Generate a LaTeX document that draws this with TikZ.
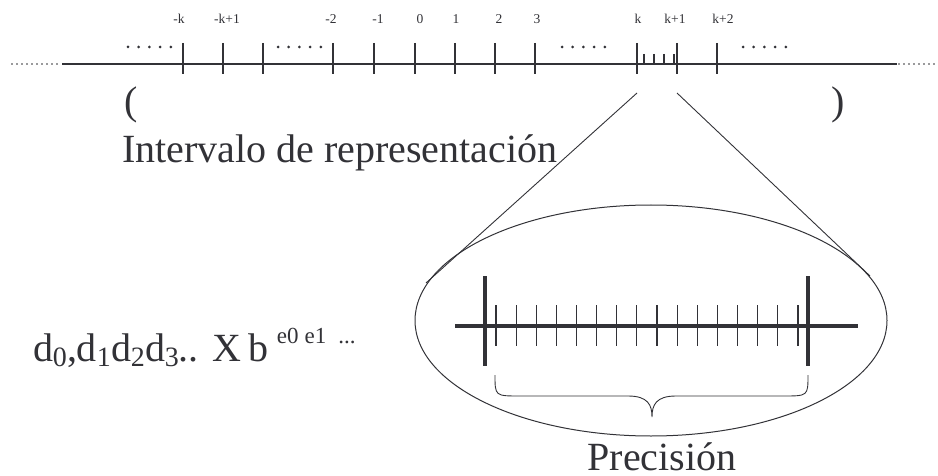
\documentclass[tikz,border=0pt]{standalone}
\usepackage{fontspec}
\setmainfont{Liberation Serif}
\usetikzlibrary{shapes.geometric}
\definecolor{ink}{RGB}{50,50,55}
\newcommand\mysub[1]{\raisebox{-5pt}{\fontsize{28}{30}\selectfont #1}}
\newcommand\mysup[1]{\raisebox{18pt}{\fontsize{23}{25}\selectfont #1}}
\begin{document}
\begin{tikzpicture}[x=1pt,y=-1pt,
  every node/.style={inner sep=0pt, outer sep=0pt, text=ink},
  big/.style={font=\fontsize{40}{48}\selectfont},
  lbl/.style={font=\fontsize{13.5}{15}\selectfont, anchor=base},
  thin/.style={draw=ink, line width=1.1pt},
  fine/.style={draw=ink, line width=0.9pt},
  heavy/.style={draw=ink, line width=4.5pt},
  dotb/.style={fill=ink, draw=none}]
\useasboundingbox (0,0) rectangle (938,476);

% main line
\coordinate (L) at (62,64);
\coordinate (R) at (897,64);
\draw[thin] (L) -- (R);
\foreach \i in {0,...,9} \fill[dotb] (12+5*\i,64) circle (0.9);
\foreach \i in {0,...,7} \fill[dotb] (899+5*\i,64) circle (0.9);

% ticks
\foreach \x in {183,223,263,333,374,415,455,495,535,637,677,717}
  \draw[thin] (\x,43) -- (\x,74);
\foreach \x in {644,654,664,674}
  \draw[thin] (\x,54) -- (\x,64);

% dot groups
\foreach \s in {128,278,562,743}
  \foreach \i in {0,...,4} \fill[dotb] (\s+10.7*\i,47) circle (1.5);

% labels
\node[lbl] (lk) at (179,24) {-k};
\node[lbl] (lk1) at (227,24) {-k+1};
\node[lbl] (lm2) at (331,24) {-2};
\node[lbl] (lm1) at (378,24) {-1};
\node[lbl] (l0) at (420,24) {0};
\node[lbl] (l1) at (456,24) {1};
\node[lbl] (l2) at (499,24) {2};
\node[lbl] (l3) at (537,24) {3};
\node[lbl] (lkk) at (638,24) {k};
\node[lbl] (lkp1) at (675,24) {k+1};
\node[lbl] (lkp2) at (723,24) {k+2};

% parentheses and interval text
\node[big, anchor=base west] (lp) at (124,115) {(};
\node[big, anchor=base west] (rp) at (831,115) {)};
\node[big, anchor=base west] (intv) at (122,163) {Intervalo de representación};

% ellipse
\node[draw=ink, line width=1pt, ellipse, minimum width=472, minimum height=231] (ell) at (651,320.5) {};
\coordinate (ka) at (637,93);
\coordinate (kb) at (677,93);
\coordinate (ea) at (426,283);
\coordinate (eb) at (870,276);
\draw[fine] (ka) -- (ea);
\draw[fine] (kb) -- (eb);

% inner ruler
\coordinate (rl) at (455,326);
\coordinate (rr) at (858,326);
\draw[draw=ink, line width=4pt] (rl) -- (rr);
\draw[heavy] (485,276) -- (485,366);
\draw[heavy] (808,276) -- (808,366);
\foreach \i in {0,...,15}
  \draw[thin] (496+20.13*\i,305) -- (496+20.13*\i,346);

% brace
\coordinate (bl) at (495,375);
\coordinate (br) at (808,375);
\coordinate (bt) at (652,417);
\draw[fine] (bl) .. controls (495,396) .. (520,396) -- (628,396)
  .. controls (648,396) and (652,405) .. (bt)
  .. controls (652,405) and (656,396) .. (676,396) -- (783,396)
  .. controls (808,396) .. (br);

\node[big, anchor=base, text depth=0pt] (prec) at (662,470) {Precisión};

% formula
\node[big, anchor=base west] (form) at (33,361)
  {d\mysub{0},d\mysub{1}d\mysub{2}d\mysub{3}..\hspace{14pt}X\hspace{7pt}b\hspace{8pt}\mysup{e0\hspace{6pt}e1\hspace{12pt}...}};
\end{tikzpicture}
\end{document}
